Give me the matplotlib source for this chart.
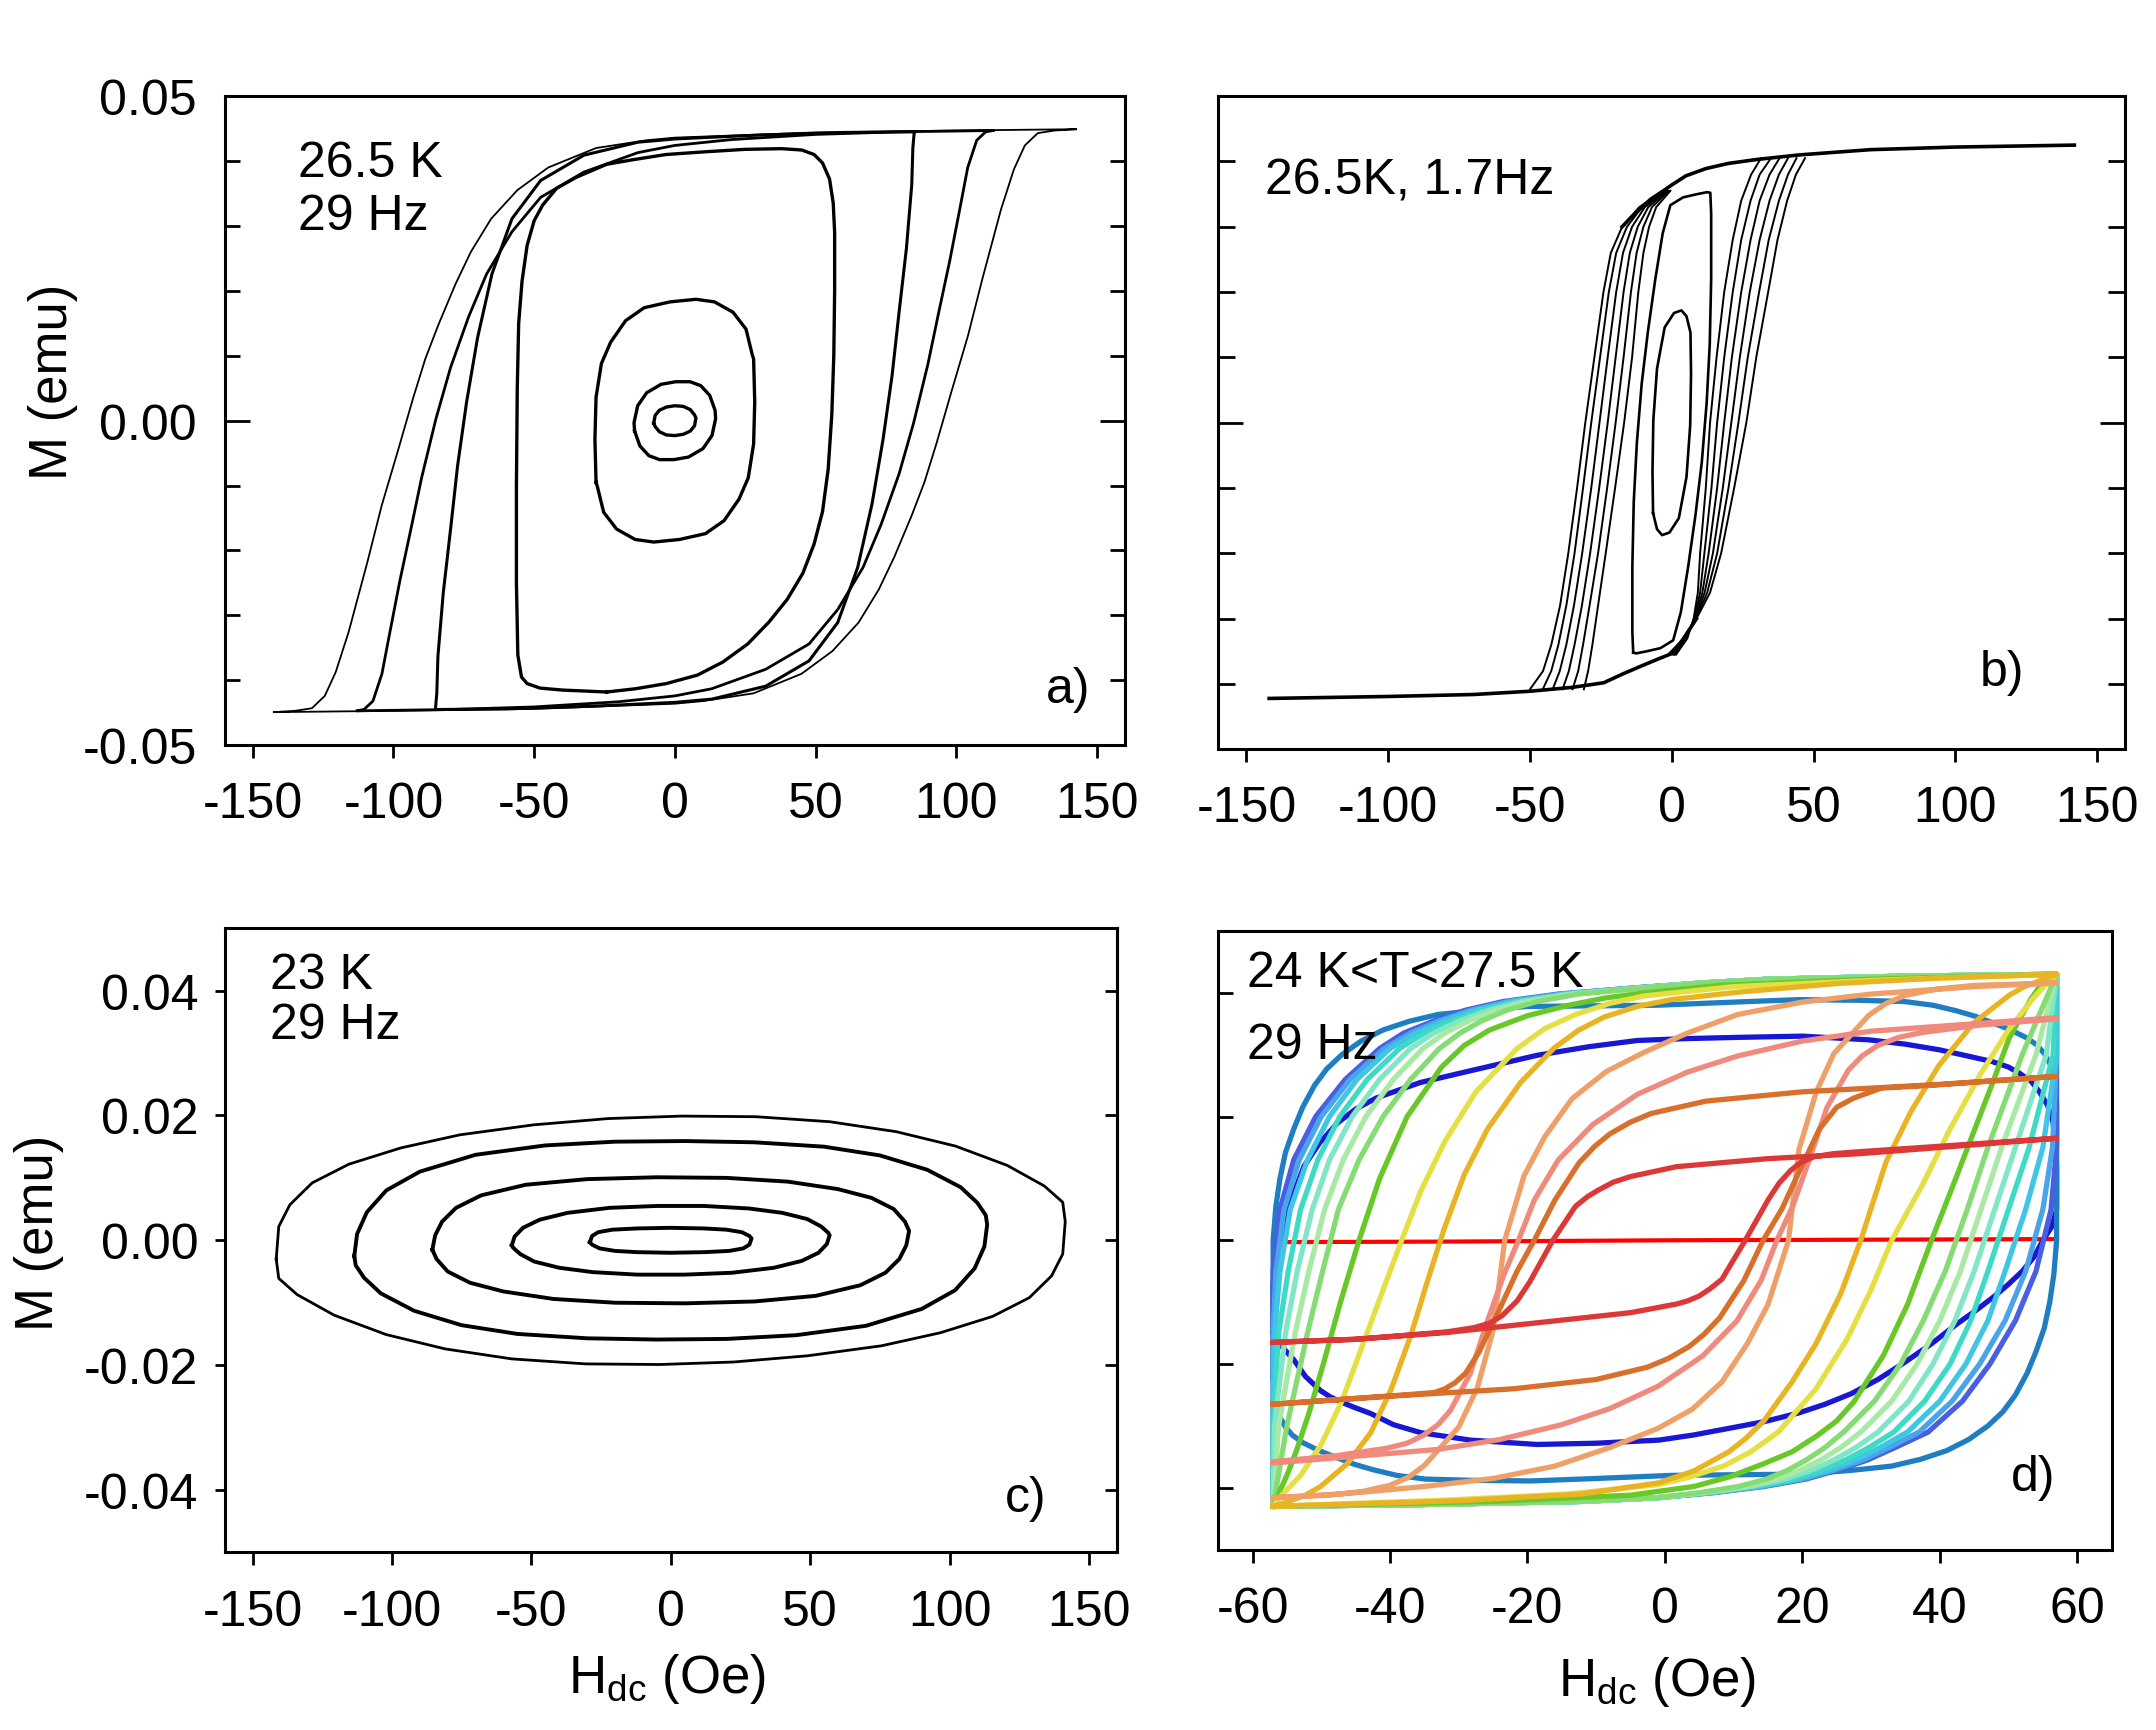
import matplotlib
matplotlib.use("Agg")
import matplotlib.pyplot as plt

plt.rcParams['font.family'] = ['Liberation Sans', 'DejaVu Sans']
plt.rcParams['mathtext.fontset'] = 'custom'
plt.rcParams['mathtext.rm'] = 'Liberation Sans'
plt.rcParams['mathtext.it'] = 'Liberation Sans:italic'
plt.rcParams['axes.unicode_minus'] = False

# ---------------- tick values / labels ----------------
x_ticks_abc = [-150, -100, -50, 0, 50, 100, 150]
x_ticklabels_abc = ['-150', '-100', '-50', '0', '50', '100', '150']
x_ticks_d = [-60, -40, -20, 0, 20, 40, 60]
x_ticklabels_d = ['-60', '-40', '-20', '0', '20', '40', '60']
y_ticks_a_major = [-0.05, 0.0, 0.05]
y_ticklabels_a = ['-0.05', '0.00', '0.05']
y_ticks_a_minor = [-0.04, -0.03, -0.02, -0.01, 0.01, 0.02, 0.03, 0.04]
y_ticks_c = [-0.04, -0.02, 0.0, 0.02, 0.04]
y_ticklabels_c = ['-0.04', '-0.02', '0.00', '0.02', '0.04']

# ---------------- panel a (26.5 K, 29 Hz) : half loops (other half = point reflection) ----------------
a7_H = [-7.5, -7.0, -5.5, -3.0, 0.0, 3.0, 5.5, 7.0, 7.5]
a7_M = [-0.0004, 0.0008, 0.0016, 0.0021, 0.0023, 0.0022, 0.0017, 0.0009, 0.0004]
a14_H = [-14.3, -14.5, -13.2, -10.0, -4.9, 0.3, 5.4, 9.2, 12.4, 14.3]
a14_M = [-0.0016, -0.0003, 0.0023, 0.0043, 0.0056, 0.0060, 0.0060, 0.0054, 0.0039, 0.0016]
a28_H = [-28.0, -28.4, -28.0, -26.1, -22.8, -17.5, -10.9, -1.7, 7.5, 14.1, 20.7, 25.3, 27.5, 28.0]
a28_M = [-0.0095, -0.0029, 0.0036, 0.0088, 0.0121, 0.0154, 0.0174, 0.0183, 0.0187, 0.0183, 0.0167,
         0.0141, 0.0102, 0.0095]
a85_H = [85.1, 84.6, 84.2, 82.3, 79.7, 77.2, 74.0, 70.1, 65.0, 57.9, 47.7, 32.3, 13.1, 0.0, -30.0,
         -60.0, -85.1]
a85_M = [0.0445, 0.0420, 0.0363, 0.0265, 0.0167, 0.0069, -0.0029, -0.0128, -0.0226, -0.0311, -0.0370,
         -0.0409, -0.0429, -0.0434, -0.0440, -0.0444, -0.0445]
a113_H = [113.1, 110.5, 107.3, 104.1, 101.5, 97.7, 93.8, 90.0, 84.9, 79.7, 73.3, 66.9, 57.9, 47.7,
          32.3, 13.1, 0.0, -20.0, -50.0, -80.0, -113.1]
a113_M = [0.0447, 0.0445, 0.0432, 0.0390, 0.0331, 0.0246, 0.0167, 0.0088, -0.0003, -0.0082, -0.0160,
          -0.0226, -0.0291, -0.0344, -0.0383, -0.0413, -0.0424, -0.0433, -0.0441, -0.0445, -0.0447]
a142_H = [142.6, 135.0, 129.0, 124.4, 120.5, 115.9, 109.4, 104.2, 98.4, 93.0, 88.7, 84.1, 78.0, 72.5,
          65.3, 56.0, 45.0, 28.0, 10.0, 0.0, -50.0, -100.0, -142.6]
a142_M = [0.0449, 0.0447, 0.0443, 0.0424, 0.0387, 0.0325, 0.0220, 0.0131, 0.0046, -0.0035, -0.0095,
          -0.0147, -0.0210, -0.0260, -0.0311, -0.0355, -0.0390, -0.0420, -0.0432, -0.0436, -0.0444,
          -0.0447, -0.0449]
# full (closed) loop with amplitude 57 Oe
a57_H = [-24.2, -40.0, -47.9, -52.5, -54.5, -55.8, -56.3, -56.3, -56.0, -55.5, -54.3, -52.5, -50.0,
         -47.0, -42.0, -35.0, -24.2, -14.9, -3.2, 10.0, 25.0, 38.0, 45.1, 49.5, 52.5, 55.0, 56.3,
         56.8, 56.8, 56.5, 55.8, 54.5, 52.5, 49.5, 45.5, 40.0, 33.5, 25.9, 17.0, 8.0, -3.0, -14.0, -24.2]
a57_M = [-0.0418, -0.0415, -0.0412, -0.0405, -0.0395, -0.0361, -0.0250, -0.0100, 0.0050, 0.0150,
         0.0215, 0.0270, 0.0308, 0.0332, 0.0358, 0.0375, 0.0395, 0.0402, 0.0410, 0.0414, 0.0418,
         0.0419, 0.0417, 0.0410, 0.0397, 0.0372, 0.0335, 0.0290, 0.0200, 0.0100, 0.0010, -0.0075,
         -0.0140, -0.0190, -0.0235, -0.0275, -0.0310, -0.0344, -0.0372, -0.0392, -0.0405, -0.0413,
         -0.0418]

# ---------------- panel b (26.5 K, 1.7 Hz) ----------------
b_top_H = [-17.5, -14.0, -11.0, -7.5, -3.0, 0.0, 5.0, 12.0, 20.0, 30.0, 45.0, 70.0, 100.0, 142.0]
b_top_M = [0.0300, 0.0316, 0.0328, 0.0342, 0.0355, 0.0364, 0.0378, 0.0389, 0.0397, 0.0403, 0.0410,
           0.0418, 0.0422, 0.0425]
b_bot_H = [-142.0, -100.0, -70.0, -50.0, -35.0, -24.0, -17.0, -10.0, -5.0, -1.0, 3.0, 8.7]
b_bot_M = [-0.0422, -0.0419, -0.0416, -0.0411, -0.0405, -0.0398, -0.0384, -0.0371, -0.0362, -0.0355,
           -0.0338, -0.0300]
# descending branches: H at fixed M levels
b_left_M = [-0.0408, -0.038, -0.034, -0.028, -0.020, -0.010, 0.000, 0.010, 0.020, 0.026, 0.030,
            0.033, 0.0355]
b_left1_H = [-50.0, -45.4, -42.5, -39.4, -36.5, -33.4, -30.5, -27.3, -24.1, -21.5, -17.5, -11.5, -3.0]
b_left2_H = [-45.5, -42.5, -40.0, -37.2, -34.3, -31.3, -28.4, -25.3, -22.2, -19.6, -15.8, -10.5, -2.5]
b_left3_H = [-42.0, -39.5, -37.2, -34.5, -31.6, -28.4, -25.5, -22.6, -19.6, -17.2, -14.0, -9.5, -2.0]
b_left4_H = [-38.5, -36.3, -34.3, -31.7, -28.8, -25.6, -22.6, -19.8, -17.0, -14.8, -12.0, -8.3, -1.5]
b_left5_H = [-35.0, -33.0, -31.3, -29.0, -26.0, -22.8, -19.8, -17.0, -14.4, -12.4, -10.0, -7.0, -1.0]
b_left6_H = [-31.0, -29.5, -28.0, -26.0, -23.3, -20.0, -16.8, -14.0, -11.8, -10.0, -8.0, -5.5, -0.5]
# ascending branches
b_right_M = [-0.0355, -0.033, -0.030, -0.026, -0.020, -0.010, 0.000, 0.010, 0.020, 0.028, 0.034,
             0.038, 0.0405]
b_right1_H = [-1.0, 4.0, 8.7, 13.5, 17.4, 22.0, 26.3, 29.8, 34.0, 37.3, 40.7, 43.8, 47.0]
b_right2_H = [-0.5, 4.3, 8.5, 12.5, 16.0, 20.0, 23.5, 26.8, 30.8, 34.2, 37.8, 41.0, 44.0]
b_right3_H = [0.0, 4.6, 8.3, 11.6, 14.5, 18.0, 21.0, 24.0, 27.5, 31.0, 34.5, 37.8, 41.0]
b_right4_H = [0.5, 4.9, 8.1, 10.8, 13.0, 16.0, 18.5, 21.2, 24.5, 27.8, 31.0, 34.5, 38.0]
b_right5_H = [1.0, 5.2, 7.9, 10.0, 11.5, 14.0, 16.0, 18.5, 21.5, 24.5, 27.8, 31.0, 35.0]
b_right6_H = [1.5, 5.5, 7.7, 9.2, 10.0, 12.0, 13.5, 15.8, 18.5, 21.5, 24.5, 28.0, 31.5]
# minor loops (half, other half = point reflection)
b_rect_H = [-13.6, -13.9, -13.9, -13.4, -12.3, -10.6, -8.4, -5.8, -3.2, -0.5, 4.0, 9.0, 12.5, 13.6]
b_rect_M = [-0.0352, -0.0320, -0.0220, -0.0120, -0.0030, 0.0060, 0.0140, 0.0220, 0.0290, 0.0333,
            0.0345, 0.0350, 0.0353, 0.0352]
b_inner_H = [-6.6, -6.8, -6.5, -5.2, -2.5, 0.8, 3.4, 5.2, 6.6]
b_inner_M = [-0.0138, -0.0075, 0.0004, 0.0083, 0.0146, 0.0168, 0.0172, 0.0163, 0.0138]

# ---------------- panel c (23 K, 29 Hz) : upper arcs (lower arc = point reflection) ----------------
c1_H = [-141.5, -140.6, -136.6, -128.6, -115.4, -96.8, -75.6, -49.1, -22.5, 4.0, 30.5, 57.0, 80.9,
        102.1, 120.7, 134.0, 140.6, 141.5]
c1_M = [-0.0030, 0.0022, 0.0057, 0.0092, 0.0122, 0.0148, 0.0169, 0.0185, 0.0195, 0.0199, 0.0198,
        0.0190, 0.0174, 0.0151, 0.0120, 0.0087, 0.0061, 0.0030]
c2_H = [-113.5, -112.5, -109.0, -102.0, -90.0, -70.0, -45.0, -20.0, 5.0, 30.0, 55.0, 75.0, 92.0,
        104.0, 110.0, 113.0, 113.5]
c2_M = [-0.0025, 0.0010, 0.0045, 0.0080, 0.0110, 0.0137, 0.0152, 0.0158, 0.0159, 0.0157, 0.0150,
        0.0136, 0.0113, 0.0085, 0.0060, 0.0040, 0.0025]
c3_H = [-85.5, -84.5, -82.0, -77.0, -68.0, -52.0, -30.0, -5.0, 20.0, 42.0, 60.0, 72.0, 80.0, 84.0, 85.5]
c3_M = [-0.0015, 0.0008, 0.0030, 0.0052, 0.0072, 0.0089, 0.0098, 0.0101, 0.0100, 0.0094, 0.0082,
        0.0068, 0.0050, 0.0030, 0.0015]
c4_H = [-57.0, -56.0, -53.0, -47.0, -37.0, -22.0, -5.0, 12.0, 28.0, 40.0, 49.0, 54.0, 56.5, 57.0]
c4_M = [-0.0008, 0.0006, 0.0020, 0.0033, 0.0044, 0.0052, 0.0055, 0.0055, 0.0051, 0.0044, 0.0034,
        0.0022, 0.0012, 0.0008]
c5_H = [-29.0, -28.2, -26.0, -21.0, -12.0, 0.0, 12.0, 20.0, 25.5, 28.2, 29.0]
c5_M = [-0.0003, 0.0007, 0.0013, 0.0017, 0.0019, 0.0020, 0.0019, 0.0017, 0.0013, 0.0007, 0.0003]

# ---------------- panel d (24 K < T < 27.5 K, 29 Hz) ----------------
d_flat_H = [-57.0, -30.0, 0.0, 30.0, 57.0]
d_flat_M = [-0.0003, -0.0002, 0.0000, 0.0001, 0.0002]

d_red_up_H = [-57, -45, -38.3, -31.7, -27.7, -25.5, -23.7, -21.5, -19.7, -16.3, -13, -11.2, -9.7,
              -7.5, -5, 1.7, 15, 28.3, 40, 57]
d_red_up_M = [-0.0165, -0.0160, -0.0154, -0.0148, -0.0141, -0.0134, -0.0122, -0.0098, -0.0068, 0.0,
              0.0055, 0.0071, 0.0081, 0.0094, 0.0103, 0.0119, 0.0132, 0.0140, 0.0150, 0.0165]
d_red_dn_H = [57, 40, 28, 24.5, 21.7, 19.8, 18.3, 16.6, 15, 11.7, 8.3, 6.5, 5, 3.3, 1.7, -5, -18.3,
              -31.7, -45, -57]
d_red_dn_M = [0.0165, 0.0152, 0.0143, 0.0140, 0.0135, 0.0126, 0.0113, 0.0092, 0.0065, 0.0, -0.0063,
              -0.0079, -0.0090, -0.0098, -0.0103, -0.0117, -0.0133, -0.0149, -0.0160, -0.0165]

d_org_up_H = [-57, -47, -38, -33.5, -32, -30.5, -29, -27, -24, -21.5, -19, -16, -12.5, -10.2, -8,
              -5, -2, 6, 20, 40, 57]
d_org_up_M = [-0.0265, -0.0257, -0.0250, -0.0246, -0.0240, -0.0230, -0.0215, -0.0180, -0.0110,
              -0.0050, 0.0, 0.0065, 0.0125, 0.0152, 0.0172, 0.0191, 0.0205, 0.0225, 0.0240, 0.0252,
              0.0265]
d_org_dn_H = [57, 47, 38, 31.5, 30, 27.5, 25, 22.5, 19.5, 17, 14.3, 11.5, 8, 5.7, 3.5, 0.5, -2.5,
              -10, -22, -40, -57]
d_org_dn_M = [0.0265, 0.0257, 0.0250, 0.0246, 0.0240, 0.0230, 0.0215, 0.0180, 0.0110, 0.0050, 0.0,
              -0.0065, -0.0125, -0.0152, -0.0172, -0.0191, -0.0205, -0.0225, -0.0240, -0.0252,
              -0.0265]

d_sal_up_H = [-57, -47.7, -40.4, -37.5, -35.1, -33, -31.2, -28.3, -25.8, -23.4, -21.3, -19, -15.5,
              -10.5, -4, 3.3, 10.6, 20, 30, 45, 57]
d_sal_up_M = [-0.0358, -0.0348, -0.0336, -0.0328, -0.0315, -0.0298, -0.0275, -0.0215, -0.0130,
              -0.0055, 0.0, 0.0065, 0.0130, 0.0187, 0.0236, 0.0272, 0.0298, 0.0322, 0.0338, 0.0350,
              0.0360]
d_sal_dn_H = [57, 46, 37.5, 34, 31, 28.7, 26.7, 23.6, 21.0, 18.6, 16.3, 14, 10.5, 5.5, -1, -8, -15,
              -24, -33, -46, -57]
d_sal_dn_M = [0.0358, 0.0348, 0.0336, 0.0328, 0.0315, 0.0298, 0.0275, 0.0215, 0.0130, 0.0055, 0.0,
              -0.0065, -0.0130, -0.0187, -0.0236, -0.0272, -0.0298, -0.0322, -0.0338, -0.0350,
              -0.0360]

d_pch_up_H = [-57, -49, -44, -40, -37.3, -35, -30, -27.3, -25, -23.3, -20.5, -17.5, -13.5, -8.5, -3,
              3.3, 10.6, 20, 30, 45, 57]
d_pch_up_M = [-0.0416, -0.0412, -0.0406, -0.0396, -0.0383, -0.0364, -0.0302, -0.0239, -0.0146, 0.0,
              0.0104, 0.0167, 0.0229, 0.0273, 0.0304, 0.0335, 0.0365, 0.0385, 0.0398, 0.0410, 0.0416]
d_pch_dn_H = [57, 45, 39.5, 35, 32.2, 29.7, 24.6, 22, 19.5, 18, 15, 12, 8.3, 4, -1, -8, -16, -25,
              -35, -47, -57]
d_pch_dn_M = [0.0416, 0.0412, 0.0406, 0.0396, 0.0383, 0.0364, 0.0302, 0.0239, 0.0146, 0.0, -0.0104,
              -0.0167, -0.0229, -0.0273, -0.0304, -0.0335, -0.0365, -0.0385, -0.0398, -0.0410,
              -0.0416]

d_gld_up_H = [-57, -55, -52.5, -50.1, -46.2, -42.8, -39.9, -37, -34.6, -32.1, -29.2, -25.8, -21,
              -16.1, -12.5, -8.8, -4, 0.9, 10.6, 25, 40, 57]
d_gld_up_M = [-0.0430, -0.0423, -0.0413, -0.0398, -0.0361, -0.0311, -0.0243, -0.0155, -0.0068,
              0.0019, 0.0106, 0.0180, 0.0255, 0.0311, 0.0340, 0.0361, 0.0378, 0.0389, 0.0401,
              0.0415, 0.0424, 0.0430]
d_gld_dn_H = [57, 54.2, 52.3, 50.1, 45, 39.9, 35.8, 32.2, 28.5, 25.6, 22, 18.5, 14.4, 11.8, 9.3,
              4.2, -0.9, -12, -30, -45, -57]
d_gld_dn_M = [0.0430, 0.0418, 0.0410, 0.0396, 0.0352, 0.0283, 0.0208, 0.0127, 0.0, -0.0086,
              -0.0167, -0.0229, -0.0292, -0.0320, -0.0342, -0.0373, -0.0392, -0.0410, -0.0421,
              -0.0426, -0.0430]

d_yel_up_H = [-57, -56, -53, -50, -47, -44, -41, -38.3, -35.5, -32, -27.5, -21.5, -17.5, -13, -8,
              -3, 10, 30, 57]
d_yel_up_M = [-0.0430, -0.0415, -0.0380, -0.0330, -0.0260, -0.0170, -0.0080, 0.0, 0.0080, 0.0160,
              0.0240, 0.0310, 0.0342, 0.0365, 0.0383, 0.0395, 0.0410, 0.0420, 0.0430]
d_yel_dn_H = [57, 55.8, 53.5, 50, 46, 41.5, 37.5, 33, 30, 26.5, 22, 16.5, 12.5, 8.5, 3.5, -1, -14,
              -32, -57]
d_yel_dn_M = [0.0430, 0.0418, 0.0390, 0.0340, 0.0270, 0.0180, 0.0090, 0.0, -0.0080, -0.0160,
              -0.0240, -0.0310, -0.0342, -0.0365, -0.0383, -0.0395, -0.0410, -0.0420, -0.0430]

d_grn_up_H = [-57, -56.2, -55.0, -53.6, -51.8, -49.7, -47.2, -44.5, -41.5, -37.5, -32.5, -29.2,
              -25.5, -20, -14, -8.5, -3, 8, 30, 57]
d_grn_up_M = [-0.0430, -0.0410, -0.0380, -0.0340, -0.0280, -0.0200, -0.0100, 0.0, 0.0100, 0.0200,
              0.0280, 0.0315, 0.0340, 0.0363, 0.0380, 0.0392, 0.0400, 0.0412, 0.0422, 0.0430]
d_grn_dn_H = [57, 55.2, 53.2, 50.1, 47.6, 45, 42.4, 38.8, 35.3, 31.8, 27.5, 25, 22, 18.5, 14.4, 9.5,
              4.2, -5, -25, -57]
d_grn_dn_M = [0.0430, 0.0421, 0.0389, 0.0327, 0.0252, 0.0177, 0.0102, 0.0, -0.0104, -0.0186,
              -0.0261, -0.0292, -0.0317, -0.0342, -0.0361, -0.0382, -0.0398, -0.0412, -0.0422,
              -0.0430]

# low-temperature cluster: H at fixed M levels
d_clu_up_M = [-0.043, -0.030, -0.015, -0.005, 0.005, 0.013, 0.020, 0.026, 0.031, 0.0335, 0.0355,
              0.0372, 0.0386, 0.0398, 0.0408, 0.0416, 0.0422, 0.0427, 0.043]
d_clu_dn_M = [0.043, 0.030, 0.015, 0.005, -0.005, -0.013, -0.020, -0.026, -0.031, -0.0335, -0.0355,
              -0.0372, -0.0386, -0.0398, -0.0408, -0.0416, -0.0422, -0.0427, -0.043]
d_bv_up_H = [-57, -57, -57, -57, -56, -54, -50.8, -46.5, -41.5, -38.0, -33.5, -29.0, -23.5, -15.5,
             -4.5, 5.5, 15, 35, 57]
d_bv_dn_H = [57, 57, 57, 56.2, 54, 51, 47.3, 43.3, 38.3, 33.5, 29.5, 25.0, 20.5, 14.4, 7.0, -1.0,
             -12, -35, -57]
d_lb_up_H = [-57, -57, -57, -56.6, -55.4, -53.2, -50.0, -45.8, -40.8, -37.0, -32.8, -28.2, -22.8,
             -15.0, -4.3, 5.5, 15, 35, 57]
d_lb_dn_H = [57, 57, 56.4, 55.0, 52.5, 49.5, 45.8, 41.8, 37.0, 32.6, 28.8, 24.5, 20.0, 14.0, 6.8,
             -1.0, -12, -35, -57]
d_cy_up_H = [-57, -57, -56.8, -56.0, -54.5, -52.0, -48.8, -44.8, -40.0, -36.2, -32.0, -27.5, -22.2,
             -14.6, -4.0, 5.5, 15, 35, 57]
d_cy_dn_H = [57, 57, 55.0, 52.5, 49.5, 47.0, 43.8, 40.0, 35.3, 31.3, 27.7, 23.7, 19.4, 13.6, 6.5,
             -1.0, -12, -35, -57]
d_tq_up_H = [-57, -57, -56.2, -54.8, -53.0, -50.5, -47.3, -43.3, -38.6, -35.0, -31.0, -26.6, -21.5,
             -14.2, -3.8, 5.5, 15, 35, 57]
d_tq_dn_H = [57, 56.5, 53.0, 50.0, 47.0, 44.5, 41.5, 37.8, 33.3, 29.7, 26.3, 22.6, 18.6, 13.1, 6.2,
             -1.0, -12, -35, -57]
d_aq_up_H = [-57, -56.8, -55.2, -53.5, -51.3, -48.8, -45.5, -41.5, -37.0, -33.6, -29.8, -25.6, -20.7,
             -13.8, -3.6, 5.5, 15, 35, 57]
d_aq_dn_H = [57, 55.5, 51.0, 48.0, 45.0, 42.2, 39.0, 35.5, 31.0, 27.8, 24.6, 21.2, 17.5, 12.4, 5.8,
             -1.0, -12, -35, -57]
d_pg_up_H = [-57, -56.2, -53.8, -51.8, -49.5, -46.8, -43.5, -39.5, -35.2, -32.0, -28.5, -24.5, -19.8,
             -13.3, -3.3, 5.5, 15, 35, 57]
d_pg_dn_H = [57, 54.0, 49.0, 46.0, 43.0, 40.0, 36.7, 33.0, 28.5, 25.6, 22.7, 19.6, 16.3, 11.6, 5.4,
             -1.0, -12, -35, -57]
d_lg_up_H = [-57, -55.0, -52.0, -49.8, -47.5, -44.5, -41.0, -37.0, -32.8, -29.8, -26.6, -23.0, -18.6,
             -12.6, -3.0, 5.5, 15, 35, 57]
d_lg_dn_H = [57, 52.0, 47.0, 44.0, 40.8, 37.6, 34.3, 30.5, 26.0, 23.3, 20.6, 17.8, 14.8, 10.7, 5.0,
             -1.0, -12, -35, -57]
# steel-blue loop (half, other half = point reflection)
d_sb_H = [-57, -57, -56.6, -56, -55.2, -54, -52.7, -51, -49.2, -47, -44.2, -41, -37.2, -33, -27, -20,
          -10, -1, 10, 19.5, 28, 34.8, 39, 42.4, 45.2, 47.6, 50.3, 52.7, 54.2, 55.2, 56.1, 56.6, 57]
d_sb_M = [-0.022, 0.0, 0.0055, 0.010, 0.0142, 0.018, 0.0215, 0.025, 0.0277, 0.030, 0.0322, 0.034,
          0.0354, 0.0365, 0.0372, 0.0378, 0.0379, 0.0380, 0.0385, 0.0389, 0.0388, 0.0386, 0.0380,
          0.0371, 0.0362, 0.0352, 0.0340, 0.0327, 0.0315, 0.0302, 0.0284, 0.026, 0.022]
# dark-blue loop (closed)
d_db_H = [-57, -57, -56.4, -55.4, -54.1, -52.5, -50.2, -47.6, -45, -42, -35.6, -28.3, -18.6, -11,
          -4, 3, 10.6, 20, 29.7, 35, 39.9, 44, 47.6, 50, 51.6, 53.3, 54.5, 55.7, 56.5, 57, 57, 56.3,
          55, 53.7, 52, 50, 48, 45.3, 42.4, 38.7, 34.8, 31, 27.1, 23.3, 19.5, 14.5, 9.3, 4, -0.9,
          -10, -18.6, -28.3, -35.5, -39.5, -42.8, -45.2, -47, -48.7, -50.1, -52.3, -54, -55.3, -56.3,
          -57]
d_db_M = [-0.015, -0.007, -0.0022, 0.0025, 0.0073, 0.012, 0.0158, 0.019, 0.0212, 0.023, 0.0255,
          0.0274, 0.0299, 0.0313, 0.0323, 0.0326, 0.0328, 0.0330, 0.0324, 0.0317, 0.0308, 0.0298,
          0.0289, 0.0280, 0.0270, 0.0257, 0.0240, 0.0218, 0.0190, 0.0120, 0.0050, 0.0022, 0.0,
          -0.0027, -0.0050, -0.0071, -0.0090, -0.0113, -0.0136, -0.0168, -0.0198, -0.0225, -0.0248,
          -0.0265, -0.0279, -0.0293, -0.0304, -0.0315, -0.0323, -0.0328, -0.0330, -0.0323, -0.0311,
          -0.0298, -0.0280, -0.0270, -0.0262, -0.0253, -0.0243, -0.0220, -0.0193, -0.0177, -0.0165,
          -0.015]


def closed(h, m):
    """Loops are inversion symmetric: second half is the point reflection of the first."""
    return list(h) + [-v for v in h], list(m) + [-v for v in m]


FS = 36
LFS = 38
fig = plt.figure(figsize=(21.56, 17.31), dpi=100)
axa = fig.add_axes([0.1042, 0.5689, 0.4176, 0.3750])
axb = fig.add_axes([0.5650, 0.5665, 0.4208, 0.3774])
axc = fig.add_axes([0.1042, 0.1026, 0.4138, 0.3606])
axd = fig.add_axes([0.5650, 0.1042, 0.4144, 0.3574])

for ax in (axa, axb, axc, axd):
    for s in ax.spines.values():
        s.set_linewidth(2.2)
    ax.set_ylim(-0.05, 0.05)
    ax.tick_params(axis='x', which='major', direction='out', length=9, width=2.0, pad=17,
                   labelsize=FS, top=False)

# ---- panel a ----
K = 'black'
for h, m, lw in [(a7_H, a7_M, 2.4), (a14_H, a14_M, 2.4), (a28_H, a28_M, 2.4),
                 (a85_H, a85_M, 2.2), (a113_H, a113_M, 2.0), (a142_H, a142_M, 1.3)]:
    hh, mm = closed(h, m)
    axa.plot(hh, mm, color=K, lw=lw, solid_joinstyle='round')
axa.plot(a57_H, a57_M, color=K, lw=2.4, solid_joinstyle='round')
axa.set_xlim(-160, 160)
axa.set_xticks(x_ticks_abc)
axa.set_xticklabels(x_ticklabels_abc)
axa.set_yticks(y_ticks_a_major)
axa.set_yticklabels(y_ticklabels_a)
axa.set_yticks(y_ticks_a_minor, minor=True)
axa.tick_params(axis='y', which='both', direction='in', left=True, right=True, width=2.0)
axa.tick_params(axis='y', which='major', length=18, pad=20, labelsize=FS)
axa.tick_params(axis='y', which='minor', length=11)
axa.set_ylabel('M (emu)', fontsize=LFS)
axa.yaxis.set_label_coords(-0.163, 0.561)
axa.text(0.081, 0.933, '26.5 K\n29 Hz', transform=axa.transAxes, fontsize=FS, ha='left', va='top',
         linespacing=1.2)
axa.text(0.962, 0.066, 'a)', transform=axa.transAxes, fontsize=FS, ha='right', va='baseline')

# ---- panel b ----
axb.plot(b_top_H, b_top_M, color=K, lw=2.6, solid_joinstyle='round')
axb.plot(b_bot_H, b_bot_M, color=K, lw=2.6, solid_joinstyle='round')
for hl in (b_left1_H, b_left2_H, b_left3_H, b_left4_H, b_left5_H, b_left6_H):
    axb.plot(hl, b_left_M, color=K, lw=1.4, solid_joinstyle='round')
for hr in (b_right1_H, b_right2_H, b_right3_H, b_right4_H, b_right5_H, b_right6_H):
    axb.plot(hr, b_right_M, color=K, lw=1.4, solid_joinstyle='round')
for h, m in [(b_rect_H, b_rect_M), (b_inner_H, b_inner_M)]:
    hh, mm = closed(h, m)
    axb.plot(hh, mm, color=K, lw=1.9, solid_joinstyle='round')
axb.set_xlim(-160, 160)
axb.set_xticks(x_ticks_abc)
axb.set_xticklabels(x_ticklabels_abc)
axb.set_yticks([0.0])
axb.set_yticks(y_ticks_a_minor, minor=True)
axb.tick_params(axis='y', which='both', direction='in', left=True, right=True, width=2.0,
                labelleft=False)
axb.tick_params(axis='y', which='major', length=18)
axb.tick_params(axis='y', which='minor', length=12)
axb.text(0.052, 0.906, '26.5K, 1.7Hz', transform=axb.transAxes, fontsize=FS, ha='left', va='top')
axb.text(0.888, 0.098, 'b)', transform=axb.transAxes, fontsize=FS, ha='right', va='baseline')

# ---- panel c ----
for h, m, lw in [(c1_H, c1_M, 2.0), (c2_H, c2_M, 2.8), (c3_H, c3_M, 2.8), (c4_H, c4_M, 2.8),
                 (c5_H, c5_M, 2.8)]:
    hh, mm = closed(h, m)
    axc.plot(hh, mm, color=K, lw=lw, solid_joinstyle='round')
axc.set_xlim(-160, 160)
axc.set_xticks(x_ticks_abc)
axc.set_xticklabels(x_ticklabels_abc)
axc.set_yticks(y_ticks_c)
axc.set_yticklabels(y_ticklabels_c)
axc.tick_params(axis='y', which='major', direction='out', length=7, width=2.0, pad=12,
                labelsize=FS, right=False)
secc = axc.secondary_yaxis('right')
secc.set_yticks(y_ticks_c)
secc.tick_params(axis='y', direction='in', length=9, width=2.0, labelright=False)
secc.spines['right'].set_linewidth(2.2)
axc.set_ylabel('M (emu)', fontsize=LFS)
axc.yaxis.set_label_coords(-0.18, 0.513)
axc.set_xlabel(r'H$_{\rm dc}$ (Oe)', fontsize=LFS)
axc.xaxis.set_label_coords(0.496, -0.158)
axc.text(0.051, 0.962, '23 K\n29 Hz', transform=axc.transAxes, fontsize=FS, ha='left', va='top',
         linespacing=1.12)
axc.text(0.921, 0.066, 'c)', transform=axc.transAxes, fontsize=FS, ha='right', va='baseline')

# ---- panel d ----
LWD = 3.8
axd.plot(d_flat_H, d_flat_M, color='#ff0000', lw=3.0)
axd.plot(d_db_H, d_db_M, color='#1818d2', lw=LWD, solid_joinstyle='round')
hh, mm = closed(d_sb_H, d_sb_M)
axd.plot(hh, mm, color='#1f7ec2', lw=LWD, solid_joinstyle='round')
cluster = [(d_bv_up_H, d_bv_dn_H, '#4a5ee2'), (d_lb_up_H, d_lb_dn_H, '#4aa4ea'),
           (d_cy_up_H, d_cy_dn_H, '#3ec6e4'), (d_tq_up_H, d_tq_dn_H, '#3edac6'),
           (d_aq_up_H, d_aq_dn_H, '#80e6c6'), (d_pg_up_H, d_pg_dn_H, '#a8eaa4'),
           (d_lg_up_H, d_lg_dn_H, '#86dc74')]
for up, dn, col in cluster:
    axd.plot(list(up) + list(dn), list(d_clu_up_M) + list(d_clu_dn_M), color=col, lw=LWD,
             solid_joinstyle='round')
warm = [(d_grn_up_H, d_grn_up_M, d_grn_dn_H, d_grn_dn_M, '#68c828'),
        (d_yel_up_H, d_yel_up_M, d_yel_dn_H, d_yel_dn_M, '#e4e044'),
        (d_gld_up_H, d_gld_up_M, d_gld_dn_H, d_gld_dn_M, '#e8b424'),
        (d_pch_up_H, d_pch_up_M, d_pch_dn_H, d_pch_dn_M, '#eea068'),
        (d_sal_up_H, d_sal_up_M, d_sal_dn_H, d_sal_dn_M, '#f08a7c'),
        (d_org_up_H, d_org_up_M, d_org_dn_H, d_org_dn_M, '#d8702c'),
        (d_red_up_H, d_red_up_M, d_red_dn_H, d_red_dn_M, '#dc3838')]
for uh, um, dh, dm, col in warm:
    axd.plot(list(uh) + list(dh), list(um) + list(dm), color=col, lw=LWD, solid_joinstyle='round')
axd.set_xlim(-65, 65)
axd.set_xticks(x_ticks_d)
axd.set_xticklabels(x_ticklabels_d)
axd.set_yticks(y_ticks_c)
axd.tick_params(axis='y', which='major', direction='in', length=11, width=2.0, labelleft=False,
                right=False)
axd.set_xlabel(r'H$_{\rm dc}$ (Oe)', fontsize=LFS)
axd.xaxis.set_label_coords(0.4916, -0.168)
axd.text(0.032, 0.97, '24 K<T<27.5 K', transform=axd.transAxes, fontsize=FS, ha='left', va='top')
axd.text(0.032, 0.853, '29 Hz', transform=axd.transAxes, fontsize=FS, ha='left', va='top')
axd.text(0.937, 0.096, 'd)', transform=axd.transAxes, fontsize=FS, ha='right', va='baseline')

fig.savefig('out.png', dpi=100)
